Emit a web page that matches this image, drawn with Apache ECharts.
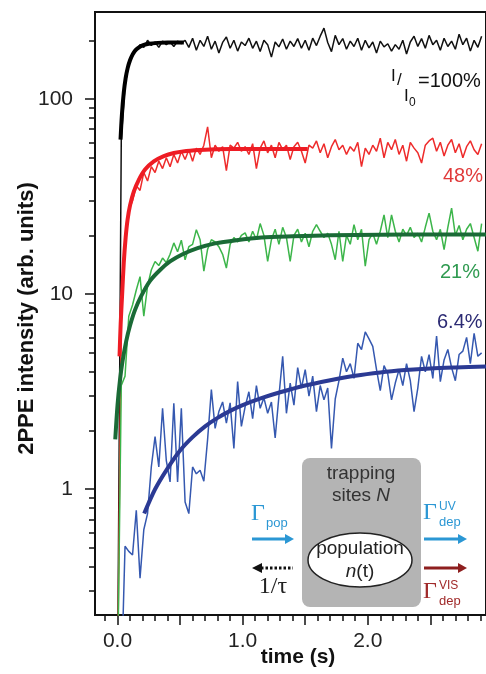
<!DOCTYPE html>
<html>
<head>
<meta charset="utf-8">
<script src="https://cdn.jsdelivr.net/npm/echarts@6/dist/echarts.min.js"></script>
<style>html,body{margin:0;padding:0;background:#fff}#main{width:486px;height:674px}</style>
</head>
<body>
<div id="main"></div>
<script>
// sampling times of the measured traces (s)
var times = [0,0.03,0.06,0.09,0.12,0.15,0.18,0.21,0.24,0.27,0.3,0.33,0.36,0.39,0.42,0.45,0.48,0.51,0.54,0.57,
  0.6,0.63,0.66,0.69,0.72,0.75,0.78,0.81,0.84,0.87,0.9,0.93,0.96,0.99,1.02,1.05,1.08,1.11,1.14,1.17,
  1.2,1.23,1.26,1.29,1.32,1.35,1.38,1.41,1.44,1.47,1.5,1.53,1.56,1.59,1.62,1.65,1.68,1.71,1.74,1.77,
  1.8,1.83,1.86,1.89,1.92,1.95,1.98,2.01,2.04,2.07,2.1,2.13,2.16,2.19,2.22,2.25,2.28,2.31,2.34,2.37,
  2.4,2.43,2.46,2.49,2.52,2.55,2.58,2.61,2.64,2.67,2.7,2.73,2.76,2.79,2.82,2.85,2.88,2.91];

// I/I0 = 100%
var black = [0.1,62,118,150,168,178,190,184,200,188,196,184,198,190,196,186,198,192,200,184,
  205,178,200,186,210,180,198,172,195,208,182,200,176,196,188,205,182,198,175,200,
  190,164,196,185,203,180,198,186,204,182,200,178,205,188,210,231,195,175,212,190,
  204,180,198,186,205,178,200,183,196,172,198,185,192,176,190,180,200,170,196,210,
  186,204,182,212,190,200,178,205,186,198,180,215,190,205,176,200,184,210];
// 48%
var red = [0.1,8,19,27,30,36,34,42,38,45,42,48,44,50,45,52,47,54,49,55,
  48,56,52,58,72,50,58,54,57,43,58,56,60,54,57,52,59,44,56,61,
  53,58,50,60,55,58,49,57,60,54,47,58,56,61,53,59,50,57,62,55,
  58,52,57,54,60,45,56,52,58,54,63,50,60,55,62,52,58,48,60,56,
  53,47,58,61,63,54,60,51,58,62,53,59,50,57,61,55,52,59];
// 21%
var green = [0.1,3.4,3.8,7.7,8.8,10.5,12.3,7.7,11,13.3,14.7,14,15.3,14.5,16,18.3,16.5,18.9,15,17.5,
  18,21.4,19,13.1,17,19,18.5,17.5,16,13.6,18,19.5,18.5,20,20.6,18.5,21,19,23,20,
  14.7,19,21.5,18,22,19.5,14.7,20,21.5,18.5,20.5,17.5,21,22.7,21,19.5,20.5,18,15,21,
  14.7,20,18,22.7,19,21.5,13.9,19,20.5,18,21,25.5,19.5,25.5,21,18.5,21.5,20,22,19.5,
  20.5,18.5,22,26,21,19,21.5,16.9,22,27.6,20,22.5,19,21.5,23,19.5,16.6,23];
// 6.4%
var blue = [0.1,0.1,0.51,0.48,0.46,0.78,0.35,0.62,0.75,1.3,1.86,1.3,2.6,1.4,1.09,2.76,1.09,2.6,0.86,0.75,
  1.3,1.2,1.25,1.1,1.8,3.24,2.05,2.5,2.8,2.18,2.77,1.62,3.56,2.1,2.65,3.16,2.3,3.4,2.6,2.94,
  2.45,2.8,1.83,3.0,4.8,2.45,3.5,2.7,4.2,3.3,4.1,3.0,3.8,2.5,3.4,2.87,3.3,1.62,2.9,3.6,
  4.7,4.0,4.4,3.7,5.6,5.2,6.4,5.9,5.4,4.1,3.2,4.3,3.9,2.87,3.5,4.1,3.4,4.4,3.6,2.5,
  3.3,4.8,4.0,4.9,3.7,6.1,3.56,4.6,5.2,4.2,3.6,4.9,5.1,6.0,4.4,6.3,4.8,5.0];

// fitted curves
var blackFitT = [0.024,0.035,0.05,0.065,0.081,0.1,0.12,0.14,0.16,0.2,0.25,0.32,0.4,0.53];
var blackFit  = [62,83,108,128,144,158,169,177,182,188.5,192,194,195,195];
var redFitT = [0.016,0.025,0.037,0.05,0.065,0.08,0.1,0.13,0.17,0.22,0.29,0.37,0.45,0.55,0.7,0.9,1.2,1.52];
var redFit  = [4.8,7,10,14.5,19.5,24,28.5,33.5,38.5,43.5,47.9,51,52.9,54.2,55,55.4,55.5,55.5];
var greenFitT = [-0.018,0,0.02,0.04,0.07,0.1,0.14,0.19,0.26,0.34,0.42,0.52,0.64,0.78,0.95,1.15,1.4,1.7,2.1,2.5,2.95];
var greenFit  = [1.8,2.7,3.64,4.53,5.76,6.9,8.3,9.8,11.7,13.3,14.7,16,17.2,18.2,18.9,19.5,19.8,20.05,20.15,20.2,20.2];
var blueFitT = [0.213,0.3,0.4,0.5,0.6,0.7,0.8,0.9,1.0,1.15,1.3,1.5,1.7,1.9,2.1,2.3,2.5,2.7,2.95];
var blueFit  = [0.75,1.0,1.28,1.58,1.85,2.1,2.32,2.52,2.7,2.93,3.14,3.4,3.62,3.82,3.97,4.08,4.16,4.21,4.26];

// ticks
var xMinorTicks = [-0.1,0,0.1,0.2,0.3,0.4,0.5,0.6,0.7,0.8,0.9,1,1.1,1.2,1.3,1.4,1.5,1.6,1.7,1.8,1.9,2,2.1,2.2,2.3,2.4,2.5,2.6,2.7,2.8,2.9];
var xMajorTicks = [0,0.5,1,1.5,2,2.5];
var xLabels = [0,1,2];
var yMinorTicks = [0.3,0.4,0.5,0.6,0.7,0.8,0.9,2,3,4,5,6,7,8,9,20,30,40,50,60,70,80,90,200];
var yMajorTicks = [1,10,100];

var xMin = -0.18, xMax = 2.945;
var yMin = 0.2266, yMax = 279.3;

function pairs(t, v) {
    var out = [];
    for (var i = 0; i < t.length; i++) out.push([t[i], v[i]]);
    return out;
}
function noisy(name, t, v, color) {
    return { name: name, type: 'line', xAxisIndex: 0, yAxisIndex: 0, symbol: 'none',
        lineStyle: { width: 1.5, color: color }, data: pairs(t, v), z: 2 };
}
function fit(name, t, v, color) {
    return { name: name, type: 'line', xAxisIndex: 0, yAxisIndex: 0, symbol: 'none',
        smooth: 0.3,
        lineStyle: { width: 4, color: color }, data: pairs(t, v), z: 3 };
}

var sans = 'Liberation Sans';
var tickStyle = { color: '#111', width: 1.5 };

function txt(x, y, s, size, color, extra) {
    var st = { text: s, fill: color, fontSize: size, fontFamily: sans, align: 'left', verticalAlign: 'middle' };
    for (var k in extra) st[k] = extra[k];
    return { type: 'text', x: x, y: y, style: st, z: 100 };
}

var myChart = echarts.init(document.getElementById('main'));
var option = {
    animation: false,
    grid: { left: 95, top: 12, right: -6, bottom: 59, show: true, borderColor: '#111', borderWidth: 2, backgroundColor: 'transparent' },
    xAxis: [{
        type: 'value', min: xMin, max: xMax, position: 'bottom',
        axisLine: { show: false, onZero: false }, splitLine: { show: false },
        axisTick: { show: true, inside: false, customValues: xMinorTicks, length: 6, lineStyle: tickStyle },
        axisLabel: { show: false }
    }, {
        type: 'value', min: xMin, max: xMax, position: 'bottom',
        axisLine: { show: false, onZero: false }, splitLine: { show: false },
        axisTick: { show: true, inside: false, customValues: xMajorTicks, length: 10, lineStyle: tickStyle },
        axisLabel: { customValues: xLabels, formatter: function (v) { return v.toFixed(1); },
            fontSize: 21, color: '#222', fontFamily: sans, margin: 16 },
        name: 'time (s)', nameLocation: 'middle', nameGap: 32, nameMoveOverlap: false,
        nameTextStyle: { fontSize: 21, fontWeight: 'bold', color: '#111', fontFamily: sans, padding: [0, 0, 0, 15] }
    }],
    yAxis: [{
        type: 'log', logBase: 10, min: yMin, max: yMax, position: 'left', show: false,
        axisLine: { onZero: false }
    }, {
        type: 'value', min: Math.log10(yMin), max: Math.log10(yMax), position: 'left',
        axisLine: { show: false, onZero: false }, splitLine: { show: false },
        axisTick: { show: true, inside: false, customValues: yMinorTicks.map(Math.log10), length: 6, lineStyle: tickStyle },
        axisLabel: { show: false }
    }, {
        type: 'value', min: Math.log10(yMin), max: Math.log10(yMax), position: 'left',
        axisLine: { show: false, onZero: false }, splitLine: { show: false },
        axisTick: { show: true, inside: false, customValues: yMajorTicks.map(Math.log10), length: 10, lineStyle: tickStyle },
        axisLabel: { customValues: yMajorTicks.map(Math.log10),
            formatter: function (v) { return String(Math.round(Math.pow(10, v))); },
            fontSize: 21, color: '#222', fontFamily: sans, margin: 22 },
        name: '2PPE intensity (arb. units)', nameLocation: 'middle', nameRotate: 90, nameGap: 57, nameMoveOverlap: false,
        nameTextStyle: { fontSize: 22, fontWeight: 'bold', color: '#111', fontFamily: sans, padding: [0, 10, 0, 0] }
    }],
    series: [
        noisy('100%', times, black, '#111111'),
        noisy('48%', times, red, '#ee2b2b'),
        noisy('21%', times, green, '#3cb54a'),
        noisy('6.4%', times, blue, '#3558b0'),
        fit('fit 100%', blackFitT, blackFit, '#000000'),
        fit('fit 48%', redFitT, redFit, '#ee1c24'),
        fit('fit 21%', greenFitT, greenFit, '#1a6a36'),
        fit('fit 6.4%', blueFitT, blueFit, '#2b3a94')
    ],
    graphic: { elements: [
        // curve labels
        txt(391, 76, 'I', 17, '#111'),
        txt(397, 80, '/', 17, '#111'),
        txt(404, 96, 'I', 17, '#111'),
        txt(409, 103, '0', 12, '#111'),
        txt(418, 81, '=100%', 20, '#111'),
        txt(443, 176, '48%', 20, '#e03a3a'),
        txt(440, 272, '21%', 20, '#2f9a50'),
        txt(437, 322, '6.4%', 20, '#2c2b74'),
        // inset scheme
        { type: 'rect', shape: { x: 302, y: 458, width: 119, height: 149, r: 8 }, style: { fill: '#b4b4b4' }, z: 99 },
        { type: 'ellipse', shape: { cx: 360, cy: 560, rx: 52, ry: 27 }, style: { fill: '#fff', stroke: '#222', lineWidth: 1.5 }, z: 100 },
        txt(361, 474, 'trapping', 19, '#333', { align: 'center' }),
        txt(361, 496, 'sites {i|N}', 19, '#333', { align: 'center', rich: { i: { fontStyle: 'italic', fontSize: 19, fontFamily: sans, fill: '#333' } } }),
        txt(360, 549, 'population', 19, '#222', { align: 'center' }),
        txt(360, 572, '{i|n}(t)', 19, '#222', { align: 'center', rich: { i: { fontStyle: 'italic', fontSize: 19, fontFamily: sans, fill: '#222' } } }),
        txt(251, 514, 'Γ', 24, '#2b97d4', { fontFamily: 'Liberation Serif' }),
        txt(266, 523, 'pop', 13, '#2b97d4'),
        { type: 'line', shape: { x1: 252, y1: 539, x2: 286, y2: 539 }, style: { stroke: '#2b97d4', lineWidth: 3 }, z: 100 },
        { type: 'polygon', shape: { points: [[285, 534], [294, 539], [285, 544]] }, style: { fill: '#2b97d4' }, z: 100 },
        { type: 'line', shape: { x1: 261, y1: 568, x2: 293, y2: 568 }, style: { stroke: '#111', lineWidth: 3, lineDash: [2.5, 2] }, z: 100 },
        { type: 'polygon', shape: { points: [[262, 563], [252, 568], [262, 573]] }, style: { fill: '#111' }, z: 100 },
        txt(273, 587, '1/τ', 24, '#222', { align: 'center', fontFamily: 'Liberation Serif' }),
        txt(423, 513, 'Γ', 24, '#2b97d4', { fontFamily: 'Liberation Serif' }),
        txt(439, 507, 'UV', 12, '#2b97d4'),
        txt(439, 522, 'dep', 13, '#2b97d4'),
        { type: 'line', shape: { x1: 424, y1: 539, x2: 459, y2: 539 }, style: { stroke: '#2b97d4', lineWidth: 3 }, z: 100 },
        { type: 'polygon', shape: { points: [[458, 534], [467, 539], [458, 544]] }, style: { fill: '#2b97d4' }, z: 100 },
        { type: 'line', shape: { x1: 424, y1: 568, x2: 459, y2: 568 }, style: { stroke: '#8e1f1f', lineWidth: 3 }, z: 100 },
        { type: 'polygon', shape: { points: [[458, 563], [467, 568], [458, 573]] }, style: { fill: '#8e1f1f' }, z: 100 },
        txt(423, 592, 'Γ', 24, '#a02a2a', { fontFamily: 'Liberation Serif' }),
        txt(439, 586, 'VIS', 12, '#a02a2a'),
        txt(439, 601, 'dep', 13, '#a02a2a')
    ] }
};
myChart.setOption(option);
window.addEventListener('resize', function () {
    myChart.resize();
});
</script>
</body>
</html>
